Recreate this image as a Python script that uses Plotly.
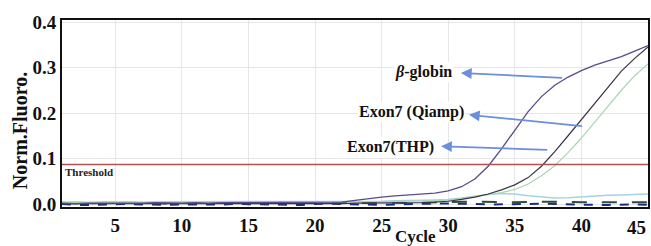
import plotly.graph_objects as go

cycles = list(range(1, 46))

beta_globin = [0.002, 0.001, 0.002, 0.002, 0.001, 0.002, 0.002, 0.003, 0.002, 0.002,
               0.003, 0.002, 0.003, 0.003, 0.003, 0.003, 0.003, 0.003, 0.003, 0.003,
               0.003, 0.004, 0.008, 0.012, 0.015, 0.018, 0.020, 0.022, 0.024, 0.029,
               0.038, 0.055, 0.083, 0.121, 0.163, 0.203, 0.236, 0.261, 0.279, 0.293,
               0.305, 0.314, 0.324, 0.336, 0.348]
exon7_qiamp = [0.001, 0.000, 0.001, 0.001, 0.000, 0.001, 0.001, 0.000, 0.001, 0.001,
               0.000, 0.001, 0.001, 0.001, 0.000, 0.001, 0.001, 0.001, 0.001, 0.001,
               0.001, 0.001, 0.002, 0.002, 0.002, 0.002, 0.002, 0.003, 0.004, 0.006,
               0.010, 0.015, 0.022, 0.031, 0.042, 0.058, 0.083, 0.115, 0.150, 0.186,
               0.222, 0.258, 0.292, 0.320, 0.345]
exon7_thp = [0.003, 0.003, 0.002, 0.003, 0.003, 0.003, 0.002, 0.003, 0.003, 0.003,
             0.003, 0.003, 0.003, 0.004, 0.004, 0.004, 0.004, 0.004, 0.004, 0.004,
             0.004, 0.004, 0.004, 0.005, 0.005, 0.005, 0.006, 0.006, 0.007, 0.008,
             0.012, 0.016, 0.020, 0.025, 0.032, 0.044, 0.062, 0.084, 0.113, 0.145,
             0.180, 0.216, 0.250, 0.282, 0.308]
control_low = [0.004, 0.005, 0.004, 0.005, 0.005, 0.005, 0.004, 0.005, 0.005, 0.005,
               0.005, 0.005, 0.005, 0.006, 0.006, 0.006, 0.006, 0.006, 0.006, 0.005,
               0.005, 0.005, 0.005, 0.006, 0.006, 0.007, 0.007, 0.008, 0.009, 0.010,
               0.013, 0.017, 0.021, 0.023, 0.022, 0.018, 0.015, 0.013, 0.014, 0.016,
               0.018, 0.019, 0.020, 0.021, 0.022]
ntc_1 = [0.000, -0.002, -0.002, -0.001, -0.001, 0.000, -0.001, -0.002, -0.002, -0.001,
         -0.001, -0.002, -0.001, 0.000, 0.000, -0.001, -0.001, -0.002, -0.002, 0.000,
         0.001, 0.000, -0.001, -0.002, -0.002, -0.001, 0.000, 0.000, 0.001, 0.001,
         0.001, 0.000, -0.001, -0.001, 0.000, 0.000, 0.001, 0.000, -0.001, -0.001,
         -0.002, -0.002, -0.001, -0.001, -0.002]
ntc_2 = [0.003, 0.002, 0.001, 0.003, 0.004, 0.003, 0.002, 0.001, 0.001, 0.002,
         0.002, 0.003, 0.003, 0.004, 0.004, 0.004, 0.005, 0.004, 0.004, 0.004,
         0.003, 0.002, 0.002, 0.002, 0.003, 0.003, 0.002, 0.003, 0.004, 0.004,
         0.005, 0.005, 0.004, 0.004, 0.004, 0.005, 0.005, 0.005, 0.004, 0.004,
         0.004, 0.004, 0.004, 0.004, 0.004]

threshold = 0.087

x_ticks = [5, 10, 15, 20, 25, 30, 35, 40, 45]
x_tick_text = ["5", "10", "15", "20", "25", "30", "35", "40", ""]
last_x_tick_label = "45"
y_ticks = [0.0, 0.1, 0.2, 0.3, 0.4]
y_tick_text = ["0.0", "0.1", "0.2", "0.3", "0.4"]

labels = ["<i>β</i>-globin", "Exon7 (Qiamp)", "Exon7(THP)"]
label_pos = [(30.4, 0.290), (31.3, 0.202), (29.1, 0.125)]
arrow_head = [(30.95, 0.288), (31.55, 0.196), (29.46, 0.127)]
arrow_tail = [(38.66, 0.277), (40.15, 0.171), (37.54, 0.119)]

serif = "Liberation Serif, Times New Roman, serif"

fig = go.Figure()

fig.add_trace(go.Scatter(x=cycles, y=ntc_1, mode="lines",
                         line=dict(color="#1c2a80", width=2, dash="dash"), showlegend=False))
fig.add_trace(go.Scatter(x=cycles, y=ntc_2, mode="lines",
                         line=dict(color="#2e4a3c", width=2, dash="longdash"), showlegend=False))
fig.add_trace(go.Scatter(x=cycles, y=control_low, mode="lines",
                         line=dict(color="#a6d3dc", width=1.5), showlegend=False))
fig.add_trace(go.Scatter(x=cycles, y=exon7_thp, mode="lines",
                         line=dict(color="#a9d6b5", width=1.2), showlegend=False))
fig.add_trace(go.Scatter(x=cycles, y=exon7_qiamp, mode="lines",
                         line=dict(color="#3a3444", width=1.2), showlegend=False))
fig.add_trace(go.Scatter(x=cycles, y=beta_globin, mode="lines",
                         line=dict(color="#5b4a8b", width=1.3), showlegend=False))
fig.add_trace(go.Scatter(x=[1, 45], y=[threshold, threshold], mode="lines",
                         line=dict(color="#b05050", width=1.5), showlegend=False))

W, H = 651, 246
ml, mr, mt, mb = 62, 1, 20, 39
pw, ph = W - ml - mr, H - mt - mb

annotations = []
for txt, (lx, ly) in zip(labels, label_pos):
    annotations.append(dict(x=lx, y=ly, xref="x", yref="y", text=f"<b>{txt}</b>",
                            showarrow=False, xanchor="right", yanchor="middle",
                            bgcolor="white",
                            font=dict(family=serif, size=16, color="#111111")))
for (hx, hy), (tx, ty) in zip(arrow_head, arrow_tail):
    annotations.append(dict(x=hx, y=hy, ax=tx, ay=ty, xref="x", yref="y",
                            axref="x", ayref="y", text="", showarrow=True,
                            arrowhead=2, arrowsize=1.2, arrowwidth=1.8,
                            arrowcolor="#6a8fdc"))
annotations.append(dict(x=1.1, y=0.071, xref="x", yref="y", text="<b>Threshold</b>",
                        showarrow=False, xanchor="left", yanchor="middle",
                        font=dict(family=serif, size=11, color="#222222")))
annotations.append(dict(x=x_ticks[-1], y=-8 / ph, xref="x", yref="paper",
                        text=f"<b>{last_x_tick_label}</b>", showarrow=False,
                        xanchor="right", yanchor="top",
                        font=dict(family=serif, size=19, color="#111111")))
annotations.append(dict(x=(20 - ml) / pw, y=(H - mb - 131) / ph, xref="paper", yref="paper",
                        text="<b>Norm.Fluoro.</b>", showarrow=False, textangle=-90,
                        xanchor="center", yanchor="middle",
                        font=dict(family=serif, size=20, color="#111111")))
annotations.append(dict(x=(417 - ml) / pw, y=(H - mb - 236) / ph, xref="paper", yref="paper",
                        text="<b>Cycle</b>", showarrow=False,
                        xanchor="center", yanchor="middle",
                        font=dict(family=serif, size=17, color="#111111")))

tick_font = dict(family=serif, size=19, color="#111111", weight="bold")

fig.update_layout(
    width=W, height=H,
    margin=dict(l=ml, r=mr, t=mt, b=mb),
    plot_bgcolor="white", paper_bgcolor="white",
    annotations=annotations,
    xaxis=dict(range=[1, 45], tickvals=x_ticks, ticktext=x_tick_text, showgrid=True,
               gridcolor="#e6e6e6", gridwidth=1, zeroline=False, showline=True,
               linecolor="#111111", linewidth=2, mirror=True, ticks="", ticklen=0,
               tickfont=tick_font),
    yaxis=dict(range=[-0.0066, 0.4044], tickvals=y_ticks, ticktext=y_tick_text,
               showgrid=True, gridcolor="#e6e6e6", gridwidth=1, zeroline=False,
               showline=True, linecolor="#111111", linewidth=2, mirror=True,
               ticks="", tickfont=tick_font),
)

fig.write_html("out.html", config={"displayModeBar": False},
               post_script="document.body.style.margin='0';document.body.style.overflow='hidden';")
